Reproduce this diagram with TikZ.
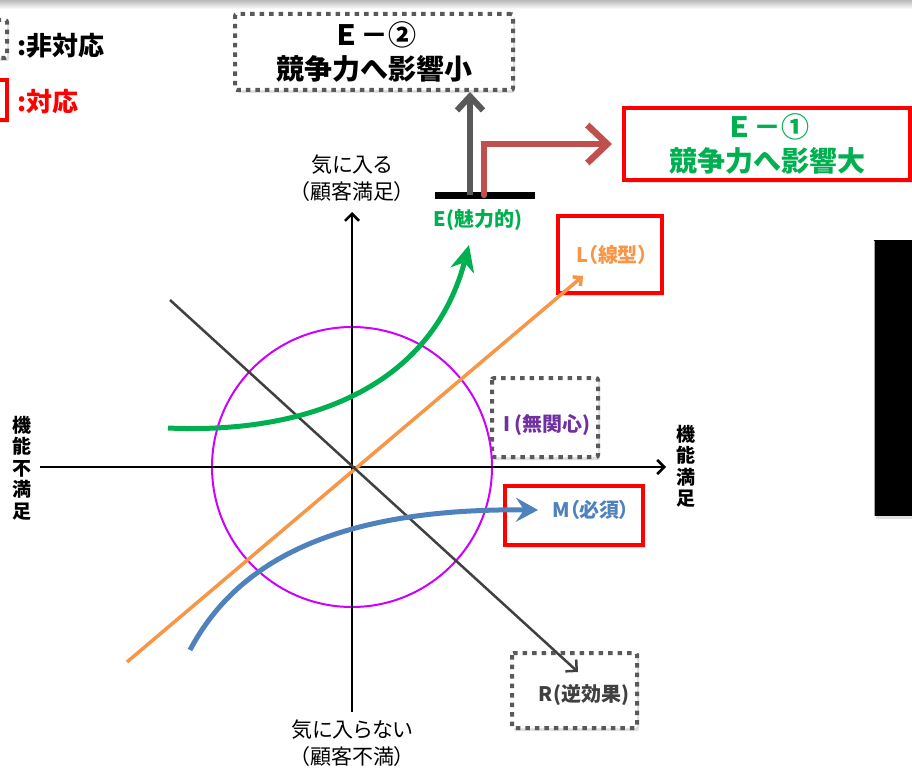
\documentclass[tikz,border=0pt]{standalone}
\usepackage{fontspec}
\setmainfont{Noto Sans CJK JP}
\newfontfamily\pfont{Noto Sans CJK JP}[RawFeature=+palt]
\usetikzlibrary{arrows.meta,shadows}
\definecolor{egreen}{HTML}{00B050}
\definecolor{lorange}{HTML}{F79646}
\definecolor{mblue}{HTML}{4F81BD}
\definecolor{ipurple}{HTML}{7030A0}
\definecolor{cmag}{HTML}{CC00FF}
\definecolor{redbrown}{HTML}{C0504D}
\definecolor{dotgray}{HTML}{595959}
\definecolor{rgray}{HTML}{404040}
\begin{document}
\begin{tikzpicture}[x=1pt,y=-1pt,
  shad/.style={drop shadow={shadow xshift=2pt,shadow yshift=-3pt,opacity=0.25}},
  nonbox/.style={draw=dotgray, line width=4pt, dash pattern=on 4.5pt off 5pt, rounded corners=2pt, fill=white, shad, inner sep=0pt},
  okbox/.style={draw=red, line width=4pt, fill=white, shad, inner sep=0pt},
  bigtxt/.style={font=\fontsize{28}{34}\selectfont\bfseries, align=center},
  lbl/.style={font=\pfont\fontsize{20}{24}\selectfont\bfseries, inner sep=0pt},
  axlbl/.style={font=\pfont\fontsize{21}{27}\selectfont, align=center, inner sep=0pt},
  vlbl/.style={font=\fontsize{19}{21.5}\selectfont\bfseries, align=center, inner sep=0pt},
  axis/.style={line width=2.5pt, black, -{Straight Barb[length=7pt,width=14pt]}},
]
\useasboundingbox (0,0) rectangle (912,770);
% top band
\shade[top color=gray!55, bottom color=white] (0,0) rectangle (912,9);

% legend
\draw[nonbox] (-30,20) rectangle (7,58);
\node[anchor=west, font=\fontsize{26}{30}\selectfont\bfseries, inner sep=0pt] (leg1) at (17,46) {:非対応};
\draw[okbox] (-30,80) rectangle (7,120);
\node[anchor=west, font=\fontsize{26}{30}\selectfont\bfseries, text=red, inner sep=0pt] (leg2) at (17,102) {:対応};

% right black panel
\fill[black, shad] (874,240) rectangle (925,516);
\draw[gray!70, line width=1pt] (874.5,240.5) -- (874.5,515.5);

% top boxes
\node[nonbox, bigtxt, minimum width=278, minimum height=76] (e2) at (374,52) {Ｅ－②\\競争力へ影響小};
\node[okbox, bigtxt, text=egreen, minimum width=286, minimum height=72] (e1) at (767,144) {Ｅ－①\\競争力へ影響大};

% E bar and arrows
\node[fill=black, minimum width=100, minimum height=7, inner sep=0pt] (ebar) at (485,195) {};
\coordinate (gx) at (470,0);
\coordinate (rx) at (484,0);
\draw[dotgray, line width=6pt, -{Straight Barb[length=14pt,width=26pt]}] (ebar.center -| gx) -- (e2.south -| gx);
\draw[redbrown, line width=6.5pt, line cap=round, -{Straight Barb[length=20pt,width=38pt]}, shorten >=10pt] (ebar.center -| rx) |- (e1.west);
\node[lbl, text=egreen] (elab) at (478,220) {E(魅力的)};

% label boxes
\draw[okbox] (558,216) rectangle (662,293);
\node[lbl, text=lorange] (llab) at (612,255) {L（線型）};
\draw[nonbox] (492,378) rectangle (598,457);
\node[lbl, text=ipurple] (ilab) at (547,425) {I (無関心)};
\draw[okbox] (505,486) rectangle (643,545);
\node[lbl, text=mblue] (mlab) at (591,510) {M（必須）};
\draw[nonbox] (512,653) rectangle (637,728);
\node[lbl, text=rgray] (rlab) at (584,695) {R(逆効果)};

% circle
\draw[cmag, line width=2pt] (352,467) circle[radius=140];

% axes
\coordinate (ybot) at (352,712);
\coordinate (ytop) at (352,212);
\coordinate (xl) at (40,467);
\coordinate (xr) at (666,467);
\draw[axis] (ybot) -- (ytop);
\draw[axis] (xl) -- (xr);
\node[axlbl] (ytoplab) at (352,178) {気に入る\\（顧客満足）};
\node[axlbl] (ybotlab) at (352,743) {気に入らない\\（顧客不満）};
\node[vlbl] (xllab) at (22,468) {機\\能\\不\\満\\足};
\node[vlbl] (xrlab) at (686,466) {機\\能\\満\\足};

% lines
\coordinate (ls) at (127,662);
\coordinate (le) at (583,276);
\draw[lorange, line width=3.5pt, -{Straight Barb[length=6pt,width=12pt]}] (ls) -- (le);
\coordinate (rs) at (170,300);
\coordinate (re) at (578,672);
\draw[rgray, line width=2.5pt, -{Straight Barb[length=8pt,width=16pt]}] (rs) -- (re);

% curves
\coordinate (gs) at (168,428);
\coordinate (ge) at (469,245);
\draw[egreen, line width=5pt, -{Stealth[length=26pt,width=24pt,inset=8pt]}] (gs) .. controls (300,434) and (430,392) .. (ge);
\coordinate (bs) at (190,650);
\coordinate (be) at (538,510);
\draw[mblue, line width=5pt, -{Stealth[length=22pt,width=24pt,inset=8pt]}] (bs) .. controls (235,565) and (330,508) .. (be);
\end{tikzpicture}
\end{document}
